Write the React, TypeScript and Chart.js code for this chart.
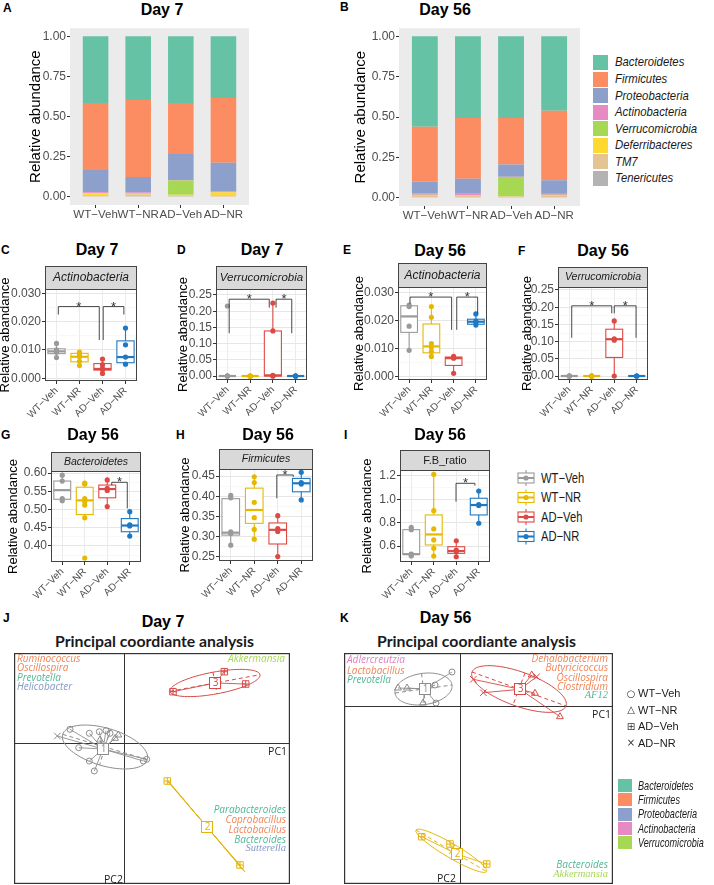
import React, { useEffect, useRef } from 'react';
import { Chart, registerables } from 'chart.js';
Chart.register(...registerables);

const SANS = '"Liberation Sans", Arial, Helvetica, sans-serif';
const HUM = '"Open Sans", "Noto Sans", sans-serif';
const SERIF = '"Liberation Serif", "DejaVu Serif", serif';
const TITLEF = 'Lato, "Open Sans", sans-serif';

// ---------------- DATA ----------------
const groups = ['WT−Veh', 'WT−NR', 'AD−Veh', 'AD−NR'];
const groupColors = ['#9A9A9A', '#E7B800', '#DC4A45', '#1E78C2'];

// stacked phyla (bottom -> top)
const phyla = ['Tenericutes', 'TM7', 'Deferribacteres', 'Verrucomicrobia', 'Actinobacteria', 'Proteobacteria', 'Firmicutes', 'Bacteroidetes'];
const phylaColors = ['#B3B3B3', '#E5C494', '#FFD92F', '#A6D854', '#E78AC3', '#8DA0CB', '#FC8D62', '#66C2A5'];
const legendPhyla = ['Bacteroidetes', 'Firmicutes', 'Proteobacteria', 'Actinobacteria', 'Verrucomicrobia', 'Deferribacteres', 'TM7', 'Tenericutes'];
const legendPhylaColors = ['#66C2A5', '#FC8D62', '#8DA0CB', '#E78AC3', '#A6D854', '#FFD92F', '#E5C494', '#B3B3B3'];
const barTicks = [0, 0.25, 0.5, 0.75, 1];

const d7Tenericutes = [0.003, 0.004, 0.004, 0.003];
const d7TM7 = [0.008, 0.012, 0.004, 0.008];
const d7Deferribacteres = [0.012, 0.004, 0.006, 0.018];
const d7Verrucomicrobia = [0.001, 0.001, 0.088, 0.001];
const d7Actinobacteria = [0.005, 0.006, 0.003, 0.005];
const d7Proteobacteria = [0.139, 0.097, 0.163, 0.178];
const d7Firmicutes = [0.416, 0.479, 0.316, 0.402];
const d7Bacteroidetes = [0.416, 0.397, 0.416, 0.385];

const d56Tenericutes = [0.003, 0.003, 0.003, 0.003];
const d56TM7 = [0.013, 0.010, 0.006, 0.013];
const d56Deferribacteres = [0.002, 0.002, 0.001, 0.002];
const d56Verrucomicrobia = [0.001, 0.001, 0.115, 0.001];
const d56Actinobacteria = [0.010, 0.010, 0.006, 0.012];
const d56Proteobacteria = [0.073, 0.092, 0.076, 0.079];
const d56Firmicutes = [0.339, 0.376, 0.287, 0.429];
const d56Bacteroidetes = [0.559, 0.506, 0.506, 0.461];

// box panels: points per group, stats [min,q1,median,q3,max], brackets [x1,x2,y,yLeftEnd,yRightEnd]
const cPoints = [[0.0123, 0.0100, 0.0095, 0.0092, 0.0073], [0.0092, 0.0082, 0.0076, 0.0060, 0.0045], [0.0068, 0.0048, 0.0035, 0.0030, 0.0017], [0.0177, 0.0118, 0.0075, 0.0050]];
const cStats = [[0.0073, 0.0087, 0.0095, 0.0104, 0.0123], [0.0045, 0.0058, 0.0076, 0.0088, 0.0092], [0.0017, 0.0029, 0.0033, 0.0052, 0.0068], [0.0050, 0.0055, 0.0075, 0.0132, 0.0177]];
const cBrackets = [[1.08, 2.86, 0.0253, 0.0225, 0.0135], [3.03, 3.93, 0.0253, 0.0135, 0.0225]];
const cTicks = [0, 0.01, 0.02, 0.03];
const cMinor = [0.005, 0.015, 0.025];

const dPoints = [[0.216, 0, 0, 0, 0], [0, 0, 0, 0, 0], [0.225, 0.139, 0.002, 0, 0], [0, 0, 0, 0]];
const dStats = [[0, 0, 0, 0, 0], [0, 0, 0, 0, 0], [0, 0, 0.002, 0.139, 0.225], [0, 0, 0, 0, 0]];
const dBrackets = [[1.08, 2.84, 0.237, 0.132, 0.211], [3.14, 3.83, 0.237, 0.211, 0.132]];
const dTicks = [0, 0.05, 0.1, 0.15, 0.2, 0.25];
const dMinor = [0.025, 0.075, 0.125, 0.175, 0.225];

const ePoints = [[0.0255, 0.0250, 0.0180, 0.0094], [0.0250, 0.0212, 0.0118, 0.0105, 0.0090, 0.0072], [0.0072, 0.0066, 0.0012], [0.0224, 0.0198, 0.0192, 0.0184]];
const eStats = [[0.0094, 0.0158, 0.0215, 0.0253, 0.0255], [0.0072, 0.0085, 0.0108, 0.0188, 0.0250], [0.0012, 0.0040, 0.0066, 0.0070, 0.0072], [0.0184, 0.0187, 0.0196, 0.0205, 0.0224]];
const eBrackets = [[1.04, 2.91, 0.0284, 0.0260, 0.0167], [3.14, 4.08, 0.0284, 0.0167, 0.0226]];

const fPoints = [[0, 0, 0, 0], [0, 0, 0, 0, 0, 0], [0.160, 0.108, 0.104, 0], [0, 0, 0]];
const fStats = [[0, 0, 0, 0, 0], [0, 0, 0, 0, 0], [0, 0.054, 0.107, 0.136, 0.160], [0, 0, 0, 0, 0]];
const fBrackets = [[1.11, 2.89, 0.204, 0.111, 0.182], [3.0, 3.97, 0.204, 0.182, 0.111]];

const gPoints = [[0.594, 0.578, 0.530, 0.524], [0.572, 0.570, 0.530, 0.522, 0.512, 0.477, 0.367], [0.581, 0.558, 0.552, 0.508], [0.494, 0.458, 0.455, 0.427]];
const gStats = [[0.524, 0.528, 0.553, 0.578, 0.594], [0.477, 0.486, 0.525, 0.561, 0.572], [0.508, 0.532, 0.556, 0.567, 0.581], [0.427, 0.439, 0.456, 0.475, 0.494]];
const gBrackets = [[3.2, 3.89, 0.5745, 0.567, 0.503]];
const gTicks = [0.4, 0.45, 0.5, 0.55, 0.6];
const gMinor = [0.375, 0.425, 0.475, 0.525, 0.575];

const hPoints = [[0.402, 0.396, 0.312, 0.308, 0.279], [0.448, 0.434, 0.385, 0.347, 0.318, 0.294], [0.352, 0.320, 0.313, 0.251], [0.459, 0.434, 0.430, 0.391]];
const hStats = [[0.279, 0.304, 0.310, 0.394, 0.402], [0.294, 0.333, 0.366, 0.420, 0.448], [0.251, 0.282, 0.317, 0.334, 0.352], [0.391, 0.411, 0.432, 0.444, 0.459]];
const hBrackets = [[2.96, 3.66, 0.4525, 0.395, 0.448]];
const hTicks = [0.25, 0.3, 0.35, 0.4, 0.45];
const hMinor = [0.275, 0.325, 0.375, 0.425];

const iPoints = [[0.760, 0.740, 0.530, 0.528, 0.515], [1.214, 0.903, 0.746, 0.652, 0.580, 0.514], [0.645, 0.565, 0.550, 0.508], [1.071, 0.955, 0.948, 0.795]];
const iStats = [[0.515, 0.528, 0.530, 0.740, 0.760], [0.514, 0.609, 0.699, 0.866, 1.214], [0.508, 0.537, 0.557, 0.594, 0.645], [0.795, 0.866, 0.951, 1.009, 1.071]];
const iBrackets = [[2.99, 3.83, 1.137, 0.980, 1.117]];
const iTicks = [0.6, 0.8, 1.0, 1.2];
const iMinor = [0.5, 0.7, 0.9, 1.1];

// PCoA (J: Day 7)
const jC1CircleX = [-0.54, -0.347, -0.247, -0.18, -0.14, -0.453, -0.347, -0.297, 0.227, 0.193];
const jC1CircleY = [0.137, 0.097, 0.113, 0.123, 0.097, -0.047, -0.18, -0.28, -0.163, -0.18];
const jC1TriX = [-0.09, -0.057, -0.24];
const jC1TriY = [0.047, 0.08, 0.03];
const jC1CrossX = [-0.667];
const jC1CrossY = [0.07];
const jC2SqX = [0.433, 1.16];
const jC2SqY = [-0.38, -1.22];
const jC3SqX = [0.49, 1.003, 1.217];
const jC3SqY = [0.513, 0.713, 0.59];
const jCenters = [[-0.21, -0.06], [0.827, -0.837], [0.91, 0.60]];
const jEllipses = [[-0.19, -0.04, 0.423, -0.126, -0.054, -0.18], [0.827, -0.837, 0.383, -0.453, 0, 0], [0.91, 0.60, 0.45, 0.083, 0.02, -0.108]];

// PCoA (K: Day 56)
const kC1CircleX = [-0.08, -0.25, -0.24];
const kC1CircleY = [0.34, 0.21, 0.03];
const kC1TriX = [-0.62, -0.53, -0.37];
const kC1TriY = [0.18, 0.18, 0.03];
const kC2SqX = [-0.383, -0.10, 0.267];
const kC2SqY = [-1.307, -1.38, -1.58];
const kC3CrossX = [0.133, 0.233, 0.767];
const kC3CrossY = [0.267, 0.133, 0.293];
const kC3TriX = [0.717, 0.75, 1.0];
const kC3TriY = [0.31, 0.127, -0.107];
const kCenters = [[-0.35, 0.17], [-0.033, -1.48], [0.6, 0.167]];
const kEllipses = [[-0.365, 0.17, 0.285, 0.04, 0.02, -0.155], [-0.087, -1.448, 0.353, -0.208, -0.036, -0.06], [0.59, 0.17, 0.47, -0.17, -0.06, -0.16]];
const clusterColors = ['#8C8C8C', '#E3B50C', '#D64A48'];

// ---------------- helpers ----------------
type Area = { x0: number; y0: number; x1: number; y1: number };

function ChartBox({ left, top, width, height, make }: { left: number; top: number; width: number; height: number; make: () => any }) {
  const ref = useRef<HTMLCanvasElement>(null);
  useEffect(() => {
    const chart = new Chart(ref.current as HTMLCanvasElement, make());
    return () => chart.destroy();
  }, []);
  return <canvas ref={ref} width={width} height={height} style={{ position: 'absolute', left, top, width, height }} />;
}

function Txt({ x, y, t, s = 12, b = false, i = false, c = '#000', a = 'l', f = SANS, sx = 1 }: any) {
  const tr = a === 'c' ? 'translateX(-50%)' : a === 'r' ? 'translateX(-100%)' : '';
  const sc = sx !== 1 ? ` scaleX(${sx})` : '';
  const origin = a === 'c' ? 'center' : a === 'r' ? 'right' : 'left';
  return (
    <div style={{ position: 'absolute', left: x, top: y - s * 0.86, fontSize: s, lineHeight: `${s}px`, fontFamily: f, fontWeight: b ? 'bold' : 'normal', fontStyle: i ? 'italic' : 'normal', color: c, whiteSpace: 'nowrap', transform: (tr + sc).trim() || 'none', transformOrigin: origin }}>{t}</div>
  );
}

const bgPlugin = {
  id: 'bg',
  beforeDraw(chart: any) {
    const a = chart.chartArea;
    const ctx = chart.ctx;
    ctx.save();
    ctx.fillStyle = '#EBEBEB';
    ctx.fillRect(a.left, a.top, a.right - a.left, a.bottom - a.top);
    ctx.restore();
  },
};

function barConfig(series: number[][], pad: any) {
  return {
    type: 'bar',
    data: {
      datasets: series.map((vals, k) => ({
        label: phyla[k],
        data: vals.map((v, i) => ({ x: i + 1, y: v })),
        backgroundColor: phylaColors[k],
        borderWidth: 0,
        stack: 's',
        barPercentage: 0.6,
        categoryPercentage: 1,
      })),
    },
    options: {
      animation: false, responsive: false, events: [],
      layout: { autoPadding: false, padding: { left: 0, right: pad.r, top: pad.t, bottom: 0 } },
      plugins: { legend: { display: false }, tooltip: { enabled: false } },
      scales: {
        x: {
          type: 'linear', min: 0.4, max: 4.6, offset: false,
          afterBuildTicks: (s: any) => { s.ticks = [1, 2, 3, 4].map((v) => ({ value: v })); },
          afterFit: (s: any) => { s.height = pad.b; },
          ticks: { autoSkip: false, maxRotation: 0, minRotation: 0, callback: (v: any) => groups[v - 1] ?? '', font: { family: SANS, size: 11.5 }, color: '#4D4D4D', padding: 0 },
          grid: { offset: false, drawOnChartArea: false, tickLength: 3, tickColor: '#333', color: '#333' },
          border: { display: false },
        },
        y: {
          stacked: true, min: -0.05, max: 1.05,
          afterBuildTicks: (s: any) => { s.ticks = barTicks.map((v) => ({ value: v })); },
          afterFit: (s: any) => { s.width = pad.l; },
          ticks: { autoSkip: false, callback: (v: any) => Number(v).toFixed(2), font: { family: SANS, size: 12 }, color: '#4D4D4D', padding: 1 },
          grid: { drawOnChartArea: false, tickLength: 3, tickColor: '#333', color: '#333' },
          border: { display: false },
          title: { display: true, text: 'Relative abundance', font: { family: SANS, size: 15 }, color: '#000', padding: 0 },
        },
      },
    },
    plugins: [bgPlugin],
  };
}

function BarPanel({ area, series, dist }: { area: Area; series: number[][]; dist: number }) {
  const pad = { l: Math.round(dist + 9), r: 4, t: 6, b: 22 };
  return (
    <ChartBox left={area.x0 - pad.l} top={area.y0 - pad.t} width={area.x1 - area.x0 + pad.l + pad.r} height={area.y1 - area.y0 + pad.t + pad.b} make={() => barConfig(series, pad)} />
  );
}

function boxPlugin(spec: any) {
  return {
    id: 'boxes',
    beforeDatasetsDraw(chart: any) {
      const { ctx } = chart;
      const x = chart.scales.x, y = chart.scales.y;
      ctx.save();
      spec.stats.forEach((st: number[], i: number) => {
        const cx = x.getPixelForValue(i + 1);
        const hw = x.getPixelForValue(i + 1 + 0.375) - cx;
        const [mn, q1, md, q3, mx] = st.map((v) => y.getPixelForValue(v));
        const c = groupColors[i];
        ctx.strokeStyle = c;
        ctx.lineWidth = 1.1;
        ctx.beginPath();
        ctx.moveTo(cx, q3); ctx.lineTo(cx, mx);
        ctx.moveTo(cx, q1); ctx.lineTo(cx, mn);
        ctx.stroke();
        ctx.fillStyle = '#fff';
        ctx.fillRect(cx - hw, q3, 2 * hw, q1 - q3);
        ctx.strokeRect(cx - hw, q3, 2 * hw, q1 - q3);
        ctx.lineWidth = 2.2;
        ctx.beginPath();
        ctx.moveTo(cx - hw, md); ctx.lineTo(cx + hw, md);
        ctx.stroke();
      });
      ctx.restore();
    },
    afterDatasetsDraw(chart: any) {
      const { ctx } = chart;
      const x = chart.scales.x, y = chart.scales.y;
      ctx.save();
      ctx.strokeStyle = '#333';
      ctx.fillStyle = '#333';
      ctx.lineWidth = 0.9;
      ctx.font = `13px ${SANS}`;
      ctx.textAlign = 'center';
      ctx.textBaseline = 'alphabetic';
      spec.brackets.forEach(([x1, x2, yy, yl, yr]: number[]) => {
        const X1 = x.getPixelForValue(x1), X2 = x.getPixelForValue(x2);
        const Y = y.getPixelForValue(yy), YL = y.getPixelForValue(yl), YR = y.getPixelForValue(yr);
        ctx.beginPath();
        ctx.moveTo(X1, YL); ctx.lineTo(X1, Y); ctx.lineTo(X2, Y); ctx.lineTo(X2, YR);
        ctx.stroke();
        ctx.fillText('*', (X1 + X2) / 2, Y + 4);
      });
      ctx.restore();
    },
    afterDraw(chart: any) {
      const { ctx } = chart;
      const a = chart.chartArea;
      const w = a.right - a.left, h = a.bottom - a.top;
      ctx.save();
      ctx.fillStyle = '#D9D9D9';
      ctx.fillRect(a.left, a.top - spec.stripH, w, spec.stripH);
      ctx.strokeStyle = '#444';
      ctx.lineWidth = 1;
      ctx.strokeRect(a.left + 0.5, a.top - spec.stripH + 0.5, w - 1, spec.stripH);
      ctx.strokeRect(a.left + 0.5, a.top + 0.5, w - 1, h - 1);
      ctx.fillStyle = '#1A1A1A';
      ctx.font = `${spec.stripItalic ? 'italic ' : ''}${spec.stripSize}px ${SANS}`;
      ctx.textAlign = 'center';
      ctx.textBaseline = 'middle';
      ctx.fillText(spec.strip, a.left + w / 2, a.top - spec.stripH / 2 + 0.5);
      ctx.restore();
    },
  };
}

function boxConfig(spec: any, pad: any) {
  const majors: number[] = spec.ticks;
  const isMajor = (v: number) => majors.some((m) => Math.abs(m - v) < 1e-9);
  const all = [...spec.ticks, ...spec.minor].sort((p: number, q: number) => p - q);
  return {
    type: 'scatter',
    data: {
      datasets: spec.points.map((pts: number[], i: number) => ({
        data: pts.map((v) => ({ x: i + 1, y: v })),
        pointBackgroundColor: groupColors[i],
        pointBorderColor: groupColors[i],
        pointBorderWidth: 0,
        pointRadius: 2.6,
      })),
    },
    options: {
      animation: false, responsive: false, events: [],
      layout: { autoPadding: false, padding: { left: 0, right: pad.r, top: pad.t, bottom: 0 } },
      plugins: { legend: { display: false }, tooltip: { enabled: false } },
      scales: {
        x: {
          type: 'linear', min: 0.5, max: 4.5,
          afterBuildTicks: (s: any) => { s.ticks = [1, 2, 3, 4].map((v) => ({ value: v })); },
          afterFit: (s: any) => { s.height = pad.b; },
          ticks: { autoSkip: false, minRotation: 45, maxRotation: 45, callback: (v: any) => groups[v - 1] ?? '', font: { family: SANS, size: 10 }, color: '#4D4D4D', padding: 1 },
          grid: { color: '#EBEBEB', lineWidth: 1, tickLength: 3, tickColor: '#333' },
          border: { display: false },
        },
        y: {
          type: 'linear', min: spec.range[0], max: spec.range[1],
          afterBuildTicks: (s: any) => { s.ticks = all.map((v: number) => ({ value: v })); },
          afterFit: (s: any) => { s.width = pad.l; },
          ticks: { autoSkip: false, callback: (v: any) => (isMajor(v) ? Number(v).toFixed(spec.dec) : ''), font: { family: SANS, size: 12 }, color: '#4D4D4D', padding: 1 },
          grid: {
            color: (c: any) => (c.tick && isMajor(c.tick.value) ? '#E6E6E6' : '#F4F4F4'),
            lineWidth: (c: any) => (c.tick && isMajor(c.tick.value) ? 1 : 0.6),
            tickColor: (c: any) => (c.tick && isMajor(c.tick.value) ? '#333' : 'rgba(0,0,0,0)'),
            tickLength: 3,
          },
          border: { display: false },
          title: { display: true, text: 'Relative abandance', font: { family: SANS, size: 13 }, color: '#000', padding: 0 },
        },
      },
    },
    plugins: [boxPlugin(spec)],
  };
}

function BoxPanel({ spec }: { spec: any }) {
  const { x0, y0, x1, y1 } = spec.area;
  const pad = { l: Math.round(spec.dist + 8), r: 6, t: spec.stripH + 4, b: 46 };
  return (
    <ChartBox left={x0 - pad.l} top={y0 - pad.t} width={x1 - x0 + pad.l + pad.r} height={y1 - y0 + pad.t + pad.b} make={() => boxConfig(spec, pad)} />
  );
}

function pcoaPlugin(spec: any) {
  return {
    id: 'pcoa',
    beforeDatasetsDraw(chart: any) {
      const { ctx } = chart;
      const a = chart.chartArea;
      const x = chart.scales.x, y = chart.scales.y;
      const px = (v: number) => x.getPixelForValue(v);
      const py = (v: number) => y.getPixelForValue(v);
      ctx.save();
      ctx.strokeStyle = '#333';
      ctx.lineWidth = 1.2;
      ctx.strokeRect(a.left + 0.6, a.top + 0.6, a.right - a.left - 1.2, a.bottom - a.top - 1.2);
      ctx.lineWidth = 1;
      ctx.beginPath();
      ctx.moveTo(Math.round(px(0)) + 0.5, a.top); ctx.lineTo(Math.round(px(0)) + 0.5, a.bottom);
      ctx.moveTo(a.left, Math.round(py(0)) + 0.5); ctx.lineTo(a.right, Math.round(py(0)) + 0.5);
      ctx.stroke();
      // star lines
      spec.series.forEach((s: any) => {
        const col = clusterColors[s.cluster - 1];
        const [cx, cy] = spec.centers[s.cluster - 1];
        ctx.strokeStyle = col;
        ctx.lineWidth = 0.9;
        ctx.setLineDash([]);
        s.xs.forEach((vx: number, i: number) => {
          ctx.beginPath();
          ctx.moveTo(px(vx), py(s.ys[i]));
          ctx.lineTo(px(cx), py(cy));
          ctx.stroke();
        });
      });
      // ellipses
      spec.ellipses.forEach((e: number[], k: number) => {
        const [cx, cy, ax, ay, bx, by] = e;
        ctx.strokeStyle = clusterColors[k];
        ctx.lineWidth = 1;
        ctx.setLineDash([]);
        ctx.beginPath();
        for (let t = 0; t <= 80; t++) {
          const th = (t / 80) * Math.PI * 2;
          const X = px(cx + ax * Math.cos(th) + bx * Math.sin(th));
          const Y = py(cy + ay * Math.cos(th) + by * Math.sin(th));
          if (t === 0) ctx.moveTo(X, Y); else ctx.lineTo(X, Y);
        }
        ctx.stroke();
        ctx.setLineDash([4, 3]);
        ctx.beginPath();
        ctx.moveTo(px(cx - ax), py(cy - ay)); ctx.lineTo(px(cx + ax), py(cy + ay));
        ctx.moveTo(px(cx - bx), py(cy - by)); ctx.lineTo(px(cx + bx), py(cy + by));
        ctx.stroke();
        ctx.setLineDash([]);
      });
      ctx.restore();
    },
    afterDatasetsDraw(chart: any) {
      const { ctx } = chart;
      const x = chart.scales.x, y = chart.scales.y;
      ctx.save();
      spec.centers.forEach(([cx, cy]: number[], k: number) => {
        const X = Math.round(x.getPixelForValue(cx)), Y = Math.round(y.getPixelForValue(cy));
        const sz = 12;
        const col = clusterColors[k];
        ctx.fillStyle = '#fff';
        ctx.fillRect(X - sz / 2, Y - sz / 2, sz, sz);
        ctx.strokeStyle = col;
        ctx.lineWidth = 1;
        ctx.strokeRect(X - sz / 2 + 0.5, Y - sz / 2 + 0.5, sz - 1, sz - 1);
        ctx.fillStyle = col;
        ctx.font = `10px ${HUM}`;
        ctx.textAlign = 'center';
        ctx.textBaseline = 'middle';
        ctx.fillText(String(k + 1), X + 0.5, Y + 0.5);
      });
      ctx.restore();
    },
  };
}

function pcoaConfig(spec: any) {
  const datasets: any[] = [];
  spec.series.forEach((s: any) => {
    const col = clusterColors[s.cluster - 1];
    const base = {
      data: s.xs.map((vx: number, i: number) => ({ x: vx, y: s.ys[i] })),
      pointBorderColor: col,
      pointBackgroundColor: 'rgba(0,0,0,0)',
      pointBorderWidth: 1,
    };
    if (s.shape === 'sqplus') {
      datasets.push({ ...base, pointStyle: 'rect', pointRadius: 4.6 });
      datasets.push({ ...base, pointStyle: 'cross', pointRadius: 3.2 });
    } else if (s.shape === 'circle') {
      datasets.push({ ...base, pointStyle: 'circle', pointRadius: 3 });
    } else if (s.shape === 'tri') {
      datasets.push({ ...base, pointStyle: 'triangle', pointRadius: 4 });
    } else {
      datasets.push({ ...base, pointStyle: 'crossRot', pointRadius: 4.6 });
    }
  });
  return {
    type: 'scatter',
    data: { datasets },
    options: {
      animation: false, responsive: false, events: [],
      layout: { autoPadding: false, padding: 0 },
      plugins: { legend: { display: false }, tooltip: { enabled: false } },
      scales: {
        x: { type: 'linear', display: false, min: spec.xr[0], max: spec.xr[1] },
        y: { type: 'linear', display: false, min: spec.yr[0], max: spec.yr[1] },
      },
    },
    plugins: [pcoaPlugin(spec)],
  };
}

function PcoaPanel({ spec }: { spec: any }) {
  const { x0, y0, x1, y1 } = spec.area;
  return <ChartBox left={x0} top={y0} width={x1 - x0} height={y1 - y0} make={() => pcoaConfig(spec)} />;
}

// ---------------- specs ----------------
const day7Series = [d7Tenericutes, d7TM7, d7Deferribacteres, d7Verrucomicrobia, d7Actinobacteria, d7Proteobacteria, d7Firmicutes, d7Bacteroidetes];
const day56Series = [d56Tenericutes, d56TM7, d56Deferribacteres, d56Verrucomicrobia, d56Actinobacteria, d56Proteobacteria, d56Firmicutes, d56Bacteroidetes];

const boxSpecs = [
  { key: 'C', area: { x0: 45, y0: 289, x1: 137, y1: 381 }, dist: 39, stripH: 23, strip: 'Actinobacteria', stripItalic: true, stripSize: 12, range: [-0.00095, 0.0315], ticks: cTicks, minor: cMinor, dec: 3, points: cPoints, stats: cStats, brackets: cBrackets },
  { key: 'D', area: { x0: 216, y0: 289, x1: 307, y1: 380 }, dist: 32, stripH: 23, strip: 'Verrucomicrobia', stripItalic: true, stripSize: 11.5, range: [-0.0123, 0.2685], ticks: dTicks, minor: dMinor, dec: 2, points: dPoints, stats: dStats, brackets: dBrackets },
  { key: 'E', area: { x0: 398, y0: 287, x1: 487, y1: 380 }, dist: 38, stripH: 24, strip: 'Actinobacteria', stripItalic: true, stripSize: 12, range: [-0.0012, 0.032], ticks: cTicks, minor: cMinor, dec: 3, points: ePoints, stats: eStats, brackets: eBrackets },
  { key: 'F', area: { x0: 558, y0: 287, x1: 648, y1: 380 }, dist: 30, stripH: 20, strip: 'Verrucomicrobia', stripItalic: true, stripSize: 10.5, range: [-0.0116, 0.2587], ticks: dTicks, minor: dMinor, dec: 2, points: fPoints, stats: fStats, brackets: fBrackets },
  { key: 'G', area: { x0: 51, y0: 471, x1: 141, y1: 562 }, dist: 37, stripH: 19, strip: 'Bacteroidetes', stripItalic: true, stripSize: 10.5, range: [0.356, 0.6055], ticks: gTicks, minor: gMinor, dec: 2, points: gPoints, stats: gStats, brackets: gBrackets },
  { key: 'H', area: { x0: 219, y0: 469, x1: 313, y1: 561 }, dist: 33, stripH: 20, strip: 'Firmicutes', stripItalic: true, stripSize: 10.5, range: [0.24, 0.4673], ticks: hTicks, minor: hMinor, dec: 2, points: hPoints, stats: hStats, brackets: hBrackets },
  { key: 'I', area: { x0: 400, y0: 470, x1: 490, y1: 562 }, dist: 32, stripH: 20, strip: 'F.B_ratio', stripItalic: false, stripSize: 11, range: [0.463, 1.251], ticks: iTicks, minor: iMinor, dec: 1, points: iPoints, stats: iStats, brackets: iBrackets },
];

const jSpec = {
  area: { x0: 14, y0: 653, x1: 290, y1: 884 }, xr: [-1.10, 1.66], yr: [-1.41, 0.90],
  series: [
    { xs: jC1CircleX, ys: jC1CircleY, shape: 'circle', cluster: 1 },
    { xs: jC1TriX, ys: jC1TriY, shape: 'tri', cluster: 1 },
    { xs: jC1CrossX, ys: jC1CrossY, shape: 'x', cluster: 1 },
    { xs: jC2SqX, ys: jC2SqY, shape: 'sqplus', cluster: 2 },
    { xs: jC3SqX, ys: jC3SqY, shape: 'sqplus', cluster: 3 },
  ],
  centers: jCenters, ellipses: jEllipses,
};
const kSpec = {
  area: { x0: 344, y0: 653, x1: 613, y1: 884 }, xr: [-1.16, 1.53], yr: [-1.78, 0.53],
  series: [
    { xs: kC1CircleX, ys: kC1CircleY, shape: 'circle', cluster: 1 },
    { xs: kC1TriX, ys: kC1TriY, shape: 'tri', cluster: 1 },
    { xs: kC2SqX, ys: kC2SqY, shape: 'sqplus', cluster: 2 },
    { xs: kC3CrossX, ys: kC3CrossY, shape: 'x', cluster: 3 },
    { xs: kC3TriX, ys: kC3TriY, shape: 'tri', cluster: 3 },
  ],
  centers: kCenters, ellipses: kEllipses,
};

const ORANGE = '#EE8558';
const TEAL = '#4FB996';
const BLUEG = '#8798C4';
const GREEN = '#A6D854';
const PINK = '#E07FBC';

export default function App() {
  const letters = [
    ['A', 3, 12], ['B', 340, 11], ['C', 1, 254.5], ['D', 177, 254], ['E', 343, 254], ['F', 518, 255],
    ['G', 1, 439], ['H', 176, 439], ['I', 344, 439], ['J', 3, 622], ['K', 340, 622],
  ];
  const titles = [
    ['Day 7', 162, 15.5], ['Day 56', 445, 15.5], ['Day 7', 97, 256], ['Day 7', 262, 256], ['Day 56', 440, 256.5], ['Day 56', 603, 256.5],
    ['Day 56', 93, 441], ['Day 56', 268, 441], ['Day 56', 440, 441], ['Day 7', 163, 627.5], ['Day 56', 445.5, 624],
  ];
  return (
    <div style={{ position: 'absolute', left: 0, top: 0, width: 714, height: 885, background: '#fff', overflow: 'hidden' }}>
      <BarPanel area={{ x0: 70, y0: 26, x1: 249, y1: 205 }} series={day7Series} dist={34} />
      <BarPanel area={{ x0: 399, y0: 26, x1: 580, y1: 206 }} series={day56Series} dist={38} />
      {boxSpecs.map((s) => <BoxPanel key={s.key} spec={s} />)}
      <PcoaPanel spec={jSpec} />
      <PcoaPanel spec={kSpec} />

      {letters.map(([t, x, y]: any) => <Txt key={'l' + t} x={x} y={y} t={t} s={12} b />)}
      {titles.map(([t, x, y]: any, i) => <Txt key={'t' + i} x={x} y={y} t={t} s={16} b a="c" />)}

      {/* phylum legend (B) */}
      {legendPhyla.map((p, i) => (
        <React.Fragment key={'lp' + p}>
          <div style={{ position: 'absolute', left: 593, top: 55 + i * 16.57, width: 15, height: 15, background: legendPhylaColors[i] }} />
          <Txt x={615} y={67 + i * 16.57} t={p} s={13.5} i c="#1A1A1A" sx={0.84} />
        </React.Fragment>
      ))}

      {/* group legend (boxplots) */}
      <svg style={{ position: 'absolute', left: 514, top: 466 }} width={26} height={82}>
        {groups.map((g, i) => {
          const cy = 12 + i * 19.5;
          const c = groupColors[i];
          return (
            <g key={g}>
              <line x1={12} x2={12} y1={cy - 8} y2={cy + 8} stroke={c} strokeWidth={1.1} />
              <rect x={4} y={cy - 5} width={16} height={10} fill="#fff" stroke={c} strokeWidth={1.1} />
              <line x1={4} x2={20} y1={cy} y2={cy} stroke={c} strokeWidth={2} />
              <circle cx={12} cy={cy} r={2.6} fill={c} />
            </g>
          );
        })}
      </svg>
      {groups.map((g, i) => <Txt key={'gl' + g} x={541} y={483 + i * 19.5} t={g} s={14} c="#1A1A1A" sx={0.8} />)}

      {/* PCoA titles */}
      <Txt x={154.5} y={647} t="Principal coordiante analysis" s={15.8} b a="c" f={TITLEF} c="#1A1A1A" />
      <Txt x={476.5} y={647} t="Principal coordiante analysis" s={15.8} b a="c" f={TITLEF} c="#1A1A1A" />

      {/* J labels */}
      <Txt x={17} y={662} t="Ruminococcus" s={10} i f={HUM} c={ORANGE} />
      <Txt x={17} y={671} t="Oscillospira" s={10} i f={HUM} c={ORANGE} />
      <Txt x={17} y={680.5} t="Prevotella" s={10} i f={HUM} c={TEAL} />
      <Txt x={17} y={690} t="Helicobacter" s={10} i f={HUM} c={BLUEG} />
      <Txt x={285} y={662} t="Akkermansia" s={10} i f={HUM} c={GREEN} a="r" />
      <Txt x={286} y={813} t="Parabacteroides" s={10} i f={HUM} c={TEAL} a="r" />
      <Txt x={286} y={823} t="Coprobacillus" s={10} i f={HUM} c={ORANGE} a="r" />
      <Txt x={286} y={833} t="Lactobacillus" s={10} i f={HUM} c={ORANGE} a="r" />
      <Txt x={286} y={842.5} t="Bacteroides" s={10} i f={HUM} c={TEAL} a="r" />
      <Txt x={286} y={852.5} t="Sutterella" s={10.5} i f={SERIF} c={BLUEG} a="r" />
      <Txt x={287} y={755} t="PC1" s={10.5} f={HUM} c="#222" a="r" />
      <Txt x={104} y={883} t="PC2" s={10.5} f={HUM} c="#222" />

      {/* K labels */}
      <Txt x={347} y={663} t="Adlercreutzia" s={10} i f={HUM} c={PINK} />
      <Txt x={347} y={673.5} t="Lactobacillus" s={10} i f={HUM} c={ORANGE} />
      <Txt x={347} y={683} t="Prevotella" s={10} i f={HUM} c={TEAL} />
      <Txt x={608} y={662} t="Dehalobacterium" s={10} i f={HUM} c={ORANGE} a="r" />
      <Txt x={608} y={671} t="Butyricicoccus" s={10} i f={HUM} c={ORANGE} a="r" />
      <Txt x={608} y={680.5} t="Oscillospira" s={10} i f={HUM} c={ORANGE} a="r" />
      <Txt x={608} y={689.5} t="Clostridium" s={10} i f={HUM} c={ORANGE} a="r" />
      <Txt x={608} y={699} t="AF12" s={10.5} i f={SERIF} c={TEAL} a="r" />
      <Txt x={611} y={718} t="PC1" s={10.5} f={HUM} c="#222" a="r" />
      <Txt x={437} y={882} t="PC2" s={10.5} f={HUM} c="#222" />
      <Txt x={608} y={868} t="Bacteroides" s={10} i f={HUM} c={TEAL} a="r" />
      <Txt x={608} y={878} t="Akkermansia" s={10.5} i f={SERIF} c={GREEN} a="r" />

      {/* shape legend (K) */}
      {[['○', 'WT−Veh', 697.5], ['△', 'WT−NR', 714], ['⊞', 'AD−Veh', 730.5], ['×', 'AD−NR', 747]].map(([sym, t, y]: any) => (
        <React.Fragment key={'sh' + t}>
          <Txt x={631} y={y} t={sym} s={10} a="c" f='"DejaVu Sans", sans-serif' c="#333" />
          <Txt x={638} y={y} t={t} s={11} c="#1A1A1A" />
        </React.Fragment>
      ))}

      {/* phylum legend (K) */}
      {legendPhyla.slice(0, 5).map((p, i) => (
        <React.Fragment key={'lk' + p}>
          <div style={{ position: 'absolute', left: 618, top: 779 + i * 14.25, width: 14, height: 13, background: legendPhylaColors[i] }} />
          <Txt x={638} y={790 + i * 14.25} t={p} s={13} i c="#1A1A1A" sx={0.7} />
        </React.Fragment>
      ))}
    </div>
  );
}
